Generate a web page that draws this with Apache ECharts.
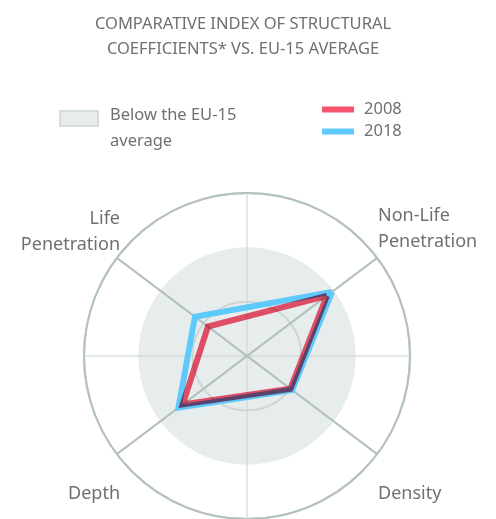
<!DOCTYPE html>
<html>
<head>
<meta charset="utf-8">
<script src="https://cdn.jsdelivr.net/npm/echarts@6/dist/echarts.min.js"></script>
<style>
  html, body { margin: 0; padding: 0; background: #fff; }
  #chart { width: 496px; height: 519px; }
</style>
</head>
<body>
<div id="chart"></div>
<script>
// data (1 = EU-15 average)
const categories = ['Non-Life\nPenetration', 'Density', 'Depth', 'Life\nPenetration'];
const values2008 = [0.92, 0.50, 0.74, 0.45];
const values2018 = [0.98, 0.52, 0.79, 0.60];
const radiusTicks = [0, 0.5, 1, 1.5];

// layout: angle (deg, counter-clockwise from east) of each category spoke
const spokeAngles = [37, 323, 217, 143];

const FONT = '"Noto Sans", Roboto, sans-serif';
const TEXT = '#707070';
const SHADE = '#e7ecec';
const CENTER = [247, 356];
const RADIUS = 163;

function toPolar(vals) {
  const pts = vals.map((v, i) => [v, spokeAngles[i]]);
  pts.push(pts[0]); // close the shape
  return pts;
}

const rMax = radiusTicks[radiusTicks.length - 1];

const chart = echarts.init(document.getElementById('chart'), null, { renderer: 'canvas' });

const angleBase = { type: 'value', min: 0, max: 360, interval: 90, startAngle: 0, clockwise: false };
const radiusBase = { type: 'value', min: 0, max: rMax, interval: 0.5 };

const option = {
  animation: false,
  title: {
    text: 'COMPARATIVE INDEX OF STRUCTURAL\nCOEFFICIENTS* VS. EU-15 AVERAGE',
    left: 238,
    top: 7,
    textAlign: 'center',
    textStyle: { fontFamily: FONT, fontSize: 16.5, fontWeight: 'normal', color: TEXT, lineHeight: 25 }
  },
  legend: {
    data: [{ name: '2008', icon: 'rect' }, { name: '2018', icon: 'rect' }],
    orient: 'vertical',
    left: 317,
    top: 96,
    itemWidth: 32,
    itemHeight: 6,
    itemGap: 5,
    selectedMode: false,
    textStyle: { fontFamily: FONT, fontSize: 16.5, color: TEXT, padding: [0, 0, 0, 5] }
  },
  // polar 0: shaded "below average" disc; polar 1: grid lines + data on top
  polar: [
    { center: CENTER, radius: RADIUS, z: 0 },
    { center: CENTER, radius: RADIUS, z: 1 }
  ],
  angleAxis: [
    Object.assign({}, angleBase, { polarIndex: 0, show: false }),
    Object.assign({}, angleBase, {
      polarIndex: 1,
      z: 1,
      axisLine: { show: true, lineStyle: { color: '#b5c3bf', width: 2 } },
      axisTick: { show: false },
      axisLabel: { show: false },
      splitLine: { show: true, lineStyle: { color: '#c9d2cf', width: 1 } }
    })
  ],
  radiusAxis: [
    Object.assign({}, radiusBase, {
      polarIndex: 0,
      z: 0,
      axisLine: { show: false },
      axisTick: { show: false },
      axisLabel: { show: false },
      splitLine: { show: false },
      splitArea: { show: true, areaStyle: { color: [SHADE, SHADE, 'rgba(0,0,0,0)'] } }
    }),
    Object.assign({}, radiusBase, {
      polarIndex: 1,
      z: 1,
      axisLine: { show: false },
      axisTick: { show: false },
      axisLabel: { show: false },
      splitLine: { show: true, lineStyle: { color: ['rgba(0,0,0,0)', '#cfd7d5', 'rgba(0,0,0,0)', '#b5c3bf'], width: 2 } },
      splitArea: { show: false }
    })
  ],
  graphic: [
    { type: 'rect', shape: { x: 60, y: 111, width: 38, height: 15 },
      style: { fill: '#e8edec', stroke: '#d6dedc', lineWidth: 2 } },
    { type: 'text', x: 110, y: 102,
      style: { text: 'Below the EU-15\naverage', fontFamily: FONT, fontSize: 16.5, fill: TEXT, lineHeight: 26 } },
    { type: 'text', x: 160, y: 356,
      style: { text: '1', fontFamily: FONT, fontSize: 16.5, fill: TEXT, align: 'center', verticalAlign: 'middle' } },
    { type: 'text', x: 378, y: 229,
      style: { text: categories[0], fontFamily: FONT, fontSize: 18, fill: TEXT, lineHeight: 26, align: 'left', verticalAlign: 'middle' } },
    { type: 'text', x: 378, y: 494,
      style: { text: categories[1], fontFamily: FONT, fontSize: 18, fill: TEXT, align: 'left', verticalAlign: 'middle' } },
    { type: 'text', x: 120, y: 494,
      style: { text: categories[2], fontFamily: FONT, fontSize: 18, fill: TEXT, align: 'right', verticalAlign: 'middle' } },
    { type: 'text', x: 120, y: 232,
      style: { text: categories[3], fontFamily: FONT, fontSize: 18, fill: TEXT, lineHeight: 26, align: 'right', verticalAlign: 'middle' } }
  ],
  series: [
    {
      name: 'spokeA',
      type: 'line',
      coordinateSystem: 'polar',
      polarIndex: 1,
      data: [[rMax, spokeAngles[0]], [rMax, spokeAngles[2]]],
      symbol: 'none',
      silent: true,
      lineStyle: { color: '#b3c1bd', width: 2 }
    },
    {
      name: 'spokeB',
      type: 'line',
      coordinateSystem: 'polar',
      polarIndex: 1,
      data: [[rMax, spokeAngles[3]], [rMax, spokeAngles[1]]],
      symbol: 'none',
      silent: true,
      lineStyle: { color: '#b3c1bd', width: 2 }
    },
    {
      name: '2018',
      type: 'line',
      coordinateSystem: 'polar',
      polarIndex: 1,
      data: toPolar(values2018),
      color: '#5ec9fb',
      symbol: 'none',
      lineStyle: { width: 6, join: 'miter' }
    },
    {
      name: '2008',
      type: 'line',
      coordinateSystem: 'polar',
      polarIndex: 1,
      data: toPolar(values2008),
      color: '#f5546d',
      symbol: 'none',
      blendMode: 'multiply',
      lineStyle: { width: 6, join: 'miter' }
    }
  ]
};

chart.setOption(option);
</script>
</body>
</html>
